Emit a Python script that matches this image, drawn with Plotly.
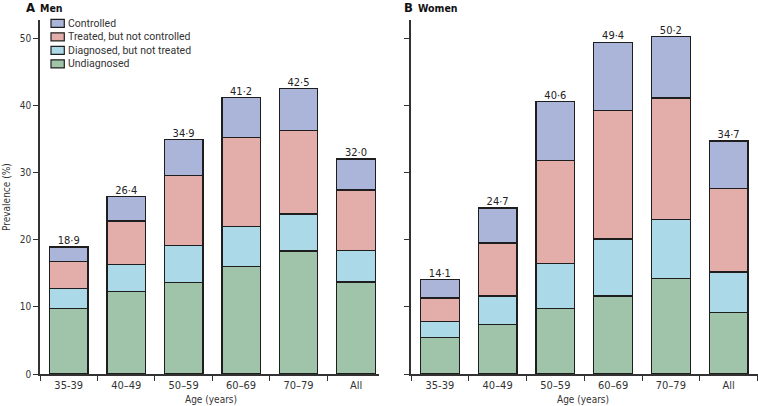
import plotly.graph_objects as go

categories = ["35-39", "40–49", "50–59", "60–69", "70–79", "All"]

# segment values
men_undiagnosed = [9.8, 12.3, 13.6, 16.0, 18.3, 13.7]
men_diag_not_treated = [2.9, 4.0, 5.5, 6.0, 5.5, 4.7]
men_treated_not_controlled = [4.0, 6.5, 10.4, 13.2, 12.5, 9.0]
men_controlled = [2.2, 3.6, 5.4, 6.0, 6.2, 4.6]
men_totals = [18.9, 26.4, 34.9, 41.2, 42.5, 32.0]

women_undiagnosed = [5.4, 7.4, 9.7, 11.6, 14.2, 9.2]
women_diag_not_treated = [2.4, 4.2, 6.8, 8.5, 8.8, 6.0]
women_treated_not_controlled = [3.5, 7.9, 15.3, 19.1, 18.1, 12.4]
women_controlled = [2.8, 5.2, 8.8, 10.2, 9.1, 7.1]
women_totals = [14.1, 24.7, 40.6, 49.4, 50.2, 34.7]

series_names = ["Undiagnosed", "Diagnosed, but not treated", "Treated, but not controlled", "Controlled"]
colors = ["#a0c4aa", "#acd9e8", "#e3aeaa", "#abb5d9"]

FONT = "DejaVu Sans Condensed, Open Sans, sans-serif"
LFONT = "Roboto, sans-serif"
LINE = "#1e1e1e"
AX = "#333333"

fig = go.Figure()

men_series = [men_undiagnosed, men_diag_not_treated, men_treated_not_controlled, men_controlled]
women_series = [women_undiagnosed, women_diag_not_treated, women_treated_not_controlled, women_controlled]

for vals, name, col in zip(men_series, series_names, colors):
    fig.add_trace(go.Bar(x=categories, y=vals, name=name, marker=dict(color=col, line=dict(color=LINE, width=1.3)),
                         width=0.67, xaxis="x", yaxis="y", showlegend=False))
for vals, name, col in zip(women_series, series_names, colors):
    fig.add_trace(go.Bar(x=categories, y=vals, name=name, marker=dict(color=col, line=dict(color=LINE, width=1.3)),
                         width=0.67, xaxis="x2", yaxis="y2", showlegend=False))

def fmt(v):
    return f"{v:.1f}".replace(".", "·")

fig.add_trace(go.Scatter(x=categories, y=men_totals, mode="text", text=[fmt(v) for v in men_totals],
                         textposition="top center", textfont=dict(size=11, color="#222", family=FONT),
                         xaxis="x", yaxis="y", showlegend=False, hoverinfo="skip", cliponaxis=False))
fig.add_trace(go.Scatter(x=categories, y=women_totals, mode="text", text=[fmt(v) for v in women_totals],
                         textposition="top center", textfont=dict(size=11, color="#222", family=FONT),
                         xaxis="x2", yaxis="y2", showlegend=False, hoverinfo="skip", cliponaxis=False))

W, H = 758, 406
def px(x):
    return x / W
def py(y):
    return 1 - y / H

ydom = [py(374), py(20)]
common_y = dict(range=[0, 52.7], dtick=10, showgrid=False, zeroline=False, showline=True, linecolor=AX,
                linewidth=1.5, ticks="outside", ticklen=5, tickwidth=1.3, tickcolor=AX, automargin=False,
                tickfont=dict(size=10, color="#333", family=FONT), domain=ydom)
common_x = dict(showgrid=False, zeroline=False, showline=True, linecolor=AX, linewidth=1.5, automargin=False,
                ticks="outside", ticklen=5, tickwidth=1.3, tickcolor=AX, tickson="boundaries",
                tickfont=dict(size=11, color="#333", family=FONT), type="category")

fig.update_layout(
    width=W, height=H, autosize=False, margin=dict(l=0, r=0, t=0, b=0, pad=0),
    plot_bgcolor="white", paper_bgcolor="white",
    barmode="stack", showlegend=False,
    font=dict(family=FONT, color="#333"),
    xaxis=dict(common_x, domain=[px(40), px(379)], range=[-0.5, 5.4], anchor="y"),
    yaxis=dict(common_y, anchor="x"),
    xaxis2=dict(common_x, domain=[px(411), px(757.5)], range=[-0.5, 5.5], anchor="y2"),
    yaxis2=dict(common_y, anchor="x2", showticklabels=False),
)

annotations = [
    dict(x=px(24), y=py(8), xref="paper", yref="paper", text="<b>A</b>", showarrow=False,
         xanchor="left", yanchor="middle", font=dict(size=13, color="#111", family=FONT)),
    dict(x=px(38), y=py(8), xref="paper", yref="paper", text="<b>Men</b>", showarrow=False,
         xanchor="left", yanchor="middle", font=dict(size=10.5, color="#111", family=FONT)),
    dict(x=px(402), y=py(8), xref="paper", yref="paper", text="<b>B</b>", showarrow=False,
         xanchor="left", yanchor="middle", font=dict(size=13, color="#111", family=FONT)),
    dict(x=px(416), y=py(8), xref="paper", yref="paper", text="<b>Women</b>", showarrow=False,
         xanchor="left", yanchor="middle", font=dict(size=10.5, color="#111", family=FONT)),
    dict(x=px(6), y=py(197), xref="paper", yref="paper", text="Prevalence (%)", showarrow=False,
         textangle=-90, xanchor="center", yanchor="middle", font=dict(size=10, color="#333", family=FONT)),
    dict(x=px(211), y=py(399), xref="paper", yref="paper", text="Age (years)", showarrow=False,
         xanchor="center", yanchor="middle", font=dict(size=10, color="#333", family=FONT)),
    dict(x=px(583), y=py(399), xref="paper", yref="paper", text="Age (years)", showarrow=False,
         xanchor="center", yanchor="middle", font=dict(size=10, color="#333", family=FONT)),
]

shapes = []
legend_order = list(zip(series_names, colors))[::-1]
for i, (name, col) in enumerate(legend_order):
    cy = 23.3 + i * 13.5
    shapes.append(dict(type="rect", xref="paper", yref="paper", x0=px(51), x1=px(64.3), y0=py(cy + 4), y1=py(cy - 4),
                       fillcolor=col, line=dict(color=LINE, width=1.2)))
    annotations.append(dict(x=px(66), y=py(cy), xref="paper", yref="paper", text=name, showarrow=False,
                            xanchor="left", yanchor="middle", font=dict(size=10.5, color="#333", family=LFONT)))

fig.update_layout(annotations=annotations, shapes=shapes)
fig.write_html("out.html", config={"displayModeBar": False, "responsive": False},
               post_script="document.body.style.margin='0';document.body.style.overflow='hidden';")
